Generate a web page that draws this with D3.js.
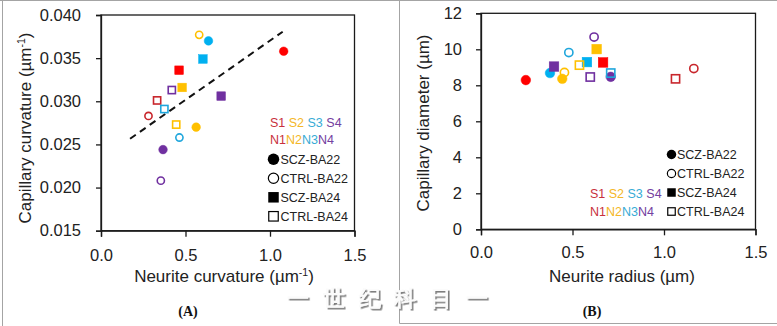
<!DOCTYPE html>
<html>
<head>
<meta charset="utf-8">
<script src="https://cdn.jsdelivr.net/npm/d3@7"></script>
<style>
  html, body { margin: 0; padding: 0; background: #fff; }
  svg { display: block; }
  text { font-family: "Liberation Sans", Arial, sans-serif; }
</style>
</head>
<body>
<svg id="chart" width="777" height="326"></svg>
<script>
// ---- Sample labels and colours (S = schizophrenia, N = control) ----
const sczLabels = ["S1", "S2", "S3", "S4"];
const ctrlLabels = ["N1", "N2", "N3", "N4"];
const markerColors = ["#ff0000", "#ffc000", "#00b0f0", "#7030a0"];
const openColors = ["#c8262c", "#ffc000", "#1fa6dc", "#7030a0"];
const textColors = ["#c8313d", "#f4b728", "#38acd6", "#7440a0"];
const groupNames = ["SCZ-BA22", "CTRL-BA22", "SCZ-BA24", "CTRL-BA24"];

// ---- Panel A: neurite curvature vs capillary curvature (µm⁻¹), order 1..4 ----
const aNeuriteSCZ22 = [1.081, 0.563, 0.636, 0.367];
const aCapillarySCZ22 = [0.0358, 0.0270, 0.0370, 0.0244];
const aNeuriteCTRL22 = [0.281, 0.581, 0.464, 0.354];
const aCapillaryCTRL22 = [0.0283, 0.0377, 0.0258, 0.0208];
const aNeuriteSCZ24 = [0.462, 0.480, 0.603, 0.711];
const aCapillarySCZ24 = [0.0336, 0.0316, 0.0349, 0.0306];
const aNeuriteCTRL24 = [0.332, 0.445, 0.375, 0.419];
const aCapillaryCTRL24 = [0.0301, 0.0273, 0.0291, 0.0313];
// linear trend line for panel A
const trendRange = [0.172, 1.075];
const trendSlope = 0.01373;
const trendIntercept = 0.02330;

// ---- Panel B: neurite radius vs capillary diameter (µm), order 1..4 ----
const bRadiusSCZ22 = [0.245, 0.444, 0.377, 0.709];
const bDiameterSCZ22 = [8.29, 8.36, 8.68, 8.47];
const bRadiusCTRL22 = [1.163, 0.456, 0.480, 0.618];
const bDiameterCTRL22 = [8.93, 8.71, 9.82, 10.68];
const bRadiusSCZ24 = [0.667, 0.632, 0.579, 0.399];
const bDiameterSCZ24 = [9.27, 10.01, 9.29, 9.04];
const bRadiusCTRL24 = [1.063, 0.538, 0.709, 0.597];
const bDiameterCTRL24 = [8.36, 9.12, 8.68, 8.46];

// ---- Axis ticks ----
const aXTicks = [0, 0.5, 1.0, 1.5];
const aYTicks = [0.015, 0.020, 0.025, 0.030, 0.035, 0.040];
const bXTicks = [0, 0.5, 1.0, 1.5];
const bYTicks = [0, 2, 4, 6, 8, 10, 12];

const watermarkChars = ["一", "世", "纪", "科", "目", "一"];

const svg = d3.select("#chart");

// soft grey drop shadow used for the embossed caption mark
const defs = svg.append("defs");
defs.append("filter").attr("id", "emboss")
  .attr("x", "-20%").attr("y", "-20%").attr("width", "150%").attr("height", "150%")
  .append("feDropShadow")
  .attr("dx", 1.6).attr("dy", 1.6).attr("stdDeviation", 0.4)
  .attr("flood-color", "#6f6f6f").attr("flood-opacity", 0.9);

// frame lines around the two figure panels
const frame = svg.append("g").attr("stroke", "#a4a4a4").attr("stroke-width", 1).attr("fill", "none");
frame.append("line").attr("x1", 0).attr("x2", 777).attr("y1", 0.5).attr("y2", 0.5);
frame.append("line").attr("x1", 2.5).attr("x2", 2.5).attr("y1", 0).attr("y2", 326);
frame.append("line").attr("x1", 399.5).attr("x2", 399.5).attr("y1", 0).attr("y2", 323.5);
frame.append("line").attr("x1", 399.5).attr("x2", 777).attr("y1", 323.5).attr("y2", 323.5);

function buildSeries(xs, ys, shape, filled) {
  return xs.map((x, i) => ({ x, y: ys[i], shape, filled, idx: i }));
}

function drawMarker(g, d, xPos, yPos, size) {
  const fillC = d.filled ? markerColors[d.idx] : "#fff";
  const strokeC = d.filled ? markerColors[d.idx] : openColors[d.idx];
  if (d.shape === "circle") {
    g.append("circle")
      .attr("cx", xPos).attr("cy", yPos)
      .attr("r", d.filled ? size / 2 : size / 2 - 0.7)
      .attr("fill", d.filled ? fillC : "none")
      .attr("stroke", strokeC).attr("stroke-width", d.filled ? 0.5 : 1.6);
  } else {
    const s = d.filled ? size : size - 1.4;
    g.append("rect")
      .attr("x", xPos - s / 2).attr("y", yPos - s / 2)
      .attr("width", s).attr("height", s)
      .attr("fill", d.filled ? fillC : "none")
      .attr("stroke", strokeC).attr("stroke-width", d.filled ? 0.5 : 1.6);
  }
}

function drawPanel(cfg) {
  const g = svg.append("g");
  const x = d3.scaleLinear().domain([0, 1.5]).range(cfg.xRange);
  const y = d3.scaleLinear().domain(cfg.yDomain).range(cfg.yRange);

  // plot box
  g.append("rect")
    .attr("x", cfg.xRange[0]).attr("y", cfg.yRange[1])
    .attr("width", cfg.xRange[1] - cfg.xRange[0])
    .attr("height", cfg.yRange[0] - cfg.yRange[1])
    .attr("fill", "none").attr("stroke", "#1a1a1a").attr("stroke-width", 1.3);

  const xAxis = g.append("g")
    .attr("transform", `translate(0,${cfg.yRange[0]})`)
    .call(d3.axisBottom(x).tickValues(cfg.xTicks).tickFormat(d3.format(".1f")).tickSize(6).tickPadding(cfg.xPad));
  const yAxis = g.append("g")
    .attr("transform", `translate(${cfg.xRange[0]},0)`)
    .call(d3.axisLeft(y).tickValues(cfg.yTicks).tickFormat(cfg.yFormat).tickSize(5).tickPadding(cfg.yPad));
  [xAxis, yAxis].forEach(ax => {
    ax.select(".domain").attr("stroke", "#1a1a1a").attr("stroke-width", 1.3);
    ax.selectAll(".tick line").attr("stroke", "#1a1a1a").attr("stroke-width", 1.3);
    ax.selectAll(".tick text")
      .attr("fill", "#222")
      .style("font-size", "16.5px")
      .style("font-family", '"Liberation Sans", Arial, sans-serif');
  });

  if (cfg.trend) {
    const t = cfg.trend;
    g.append("line")
      .attr("x1", x(t.range[0])).attr("y1", y(t.intercept + t.slope * t.range[0]))
      .attr("x2", x(t.range[1])).attr("y2", y(t.intercept + t.slope * t.range[1]))
      .attr("stroke", "#111").attr("stroke-width", 2).attr("stroke-dasharray", "7,5");
  }

  const pts = g.append("g");
  cfg.series.forEach(ser => ser.forEach(d => drawMarker(pts, d, x(d.x), y(d.y), cfg.markerSize)));

  // axis titles
  const xt = g.append("text")
    .attr("x", cfg.xTitlePos[0]).attr("y", cfg.xTitlePos[1])
    .attr("text-anchor", "middle").attr("fill", "#222").style("font-size", "17px");
  cfg.xTitle(xt);
  const yt = g.append("text")
    .attr("transform", `translate(${cfg.yTitlePos[0]},${cfg.yTitlePos[1]}) rotate(-90)`)
    .attr("text-anchor", "middle").attr("fill", "#222").style("font-size", "17px");
  cfg.yTitle(yt);

  // panel tag
  g.append("text")
    .attr("x", cfg.tagPos[0]).attr("y", cfg.tagPos[1])
    .attr("text-anchor", "middle").attr("fill", "#111")
    .style("font-family", '"Liberation Serif", "Times New Roman", serif')
    .style("font-weight", "bold").style("font-size", "14px")
    .text(cfg.tag);

  // colour key for sample numbers
  const sRow = g.append("text").attr("x", cfg.keyPos[0]).attr("y", cfg.keyPos[1]).style("font-size", "12.5px");
  sczLabels.forEach((s, i) => sRow.append("tspan").attr("fill", textColors[i]).text(i < 3 ? s + " " : s));
  const nRow = g.append("text").attr("x", cfg.keyPos[0]).attr("y", cfg.keyPos[1] + 17.5).style("font-size", "12.5px");
  ctrlLabels.forEach((s, i) => nRow.append("tspan").attr("fill", textColors[i]).text(s));

  // group legend
  groupNames.forEach((name, i) => {
    const cy = cfg.legendPos[1] + i * cfg.legendStep;
    const cx = cfg.legendPos[0];
    const s = cfg.legendSize;
    const filled = i % 2 === 0;
    if (i < 2) {
      g.append("circle").attr("cx", cx).attr("cy", cy).attr("r", filled ? s / 2 : s / 2 - 0.6)
        .attr("fill", filled ? "#000" : "#fff").attr("stroke", "#000").attr("stroke-width", filled ? 0 : 1.2);
    } else {
      const ss = filled ? s - 1 : s - 2;
      g.append("rect").attr("x", cx - ss / 2).attr("y", cy - ss / 2).attr("width", ss).attr("height", ss)
        .attr("fill", filled ? "#000" : "#fff").attr("stroke", "#000").attr("stroke-width", filled ? 0 : 1.2);
    }
    g.append("text").attr("x", cfg.legendTextX).attr("y", cy + 4.5)
      .attr("fill", "#222").style("font-size", "12.5px").text(name);
  });
}

drawPanel({
  xRange: [101, 354.5], yDomain: [0.015, 0.040], yRange: [230.7, 15],
  xTicks: aXTicks, yTicks: aYTicks, yFormat: d3.format(".3f"),
  xPad: 13, yPad: 15,
  markerSize: 8.6,
  trend: { range: trendRange, slope: trendSlope, intercept: trendIntercept },
  series: [
    buildSeries(aNeuriteSCZ22, aCapillarySCZ22, "circle", true),
    buildSeries(aNeuriteCTRL22, aCapillaryCTRL22, "circle", false),
    buildSeries(aNeuriteSCZ24, aCapillarySCZ24, "square", true),
    buildSeries(aNeuriteCTRL24, aCapillaryCTRL24, "square", false)
  ],
  xTitlePos: [224, 282],
  xTitle: t => {
    t.append("tspan").text("Neurite curvature (µm");
    t.append("tspan").attr("dy", -6).style("font-size", "10.5px").text("-1");
    t.append("tspan").attr("dy", 6).text(")");
  },
  yTitlePos: [31, 128],
  yTitle: t => {
    t.append("tspan").text("Capillary curvature (µm");
    t.append("tspan").attr("dy", -6).style("font-size", "10.5px").text("-1");
    t.append("tspan").attr("dy", 6).text(")");
  },
  tag: "(A)", tagPos: [188, 316],
  keyPos: [270, 126.5],
  legendPos: [273.5, 159.3], legendStep: 19, legendSize: 11.5, legendTextX: 280.5
});

drawPanel({
  xRange: [481, 755.5], yDomain: [0, 12], yRange: [229.3, 13.3],
  xTicks: bXTicks, yTicks: bYTicks, yFormat: d3.format("d"),
  xPad: 11, yPad: 14,
  markerSize: 9.6,
  trend: null,
  series: [
    buildSeries(bRadiusSCZ22, bDiameterSCZ22, "circle", true),
    buildSeries(bRadiusCTRL22, bDiameterCTRL22, "circle", false),
    buildSeries(bRadiusSCZ24, bDiameterSCZ24, "square", true),
    buildSeries(bRadiusCTRL24, bDiameterCTRL24, "square", false)
  ],
  xTitlePos: [622, 282],
  xTitle: t => t.text("Neurite radius (µm)"),
  yTitlePos: [429, 123],
  yTitle: t => t.text("Capillary diameter (µm)"),
  tag: "(B)", tagPos: [592, 316],
  keyPos: [590, 198],
  legendPos: [671.5, 154.5], legendStep: 19, legendSize: 9.5, legendTextX: 677
});

// embossed caption mark across the lower centre
const wm = svg.append("g")
  .style("font-family", '"Noto Sans CJK SC", sans-serif')
  .style("font-size", "22px").style("font-weight", "bold")
  .attr("filter", "url(#emboss)");
const wmX = d3.scaleLinear().domain([0, watermarkChars.length - 1]).range([298, 477]);
watermarkChars.forEach((c, i) => {
  wm.append("text").attr("x", wmX(i)).attr("y", 305.5).attr("text-anchor", "middle")
    .attr("fill", "#fbfbfb").text(c);
});
</script>
</body>
</html>
